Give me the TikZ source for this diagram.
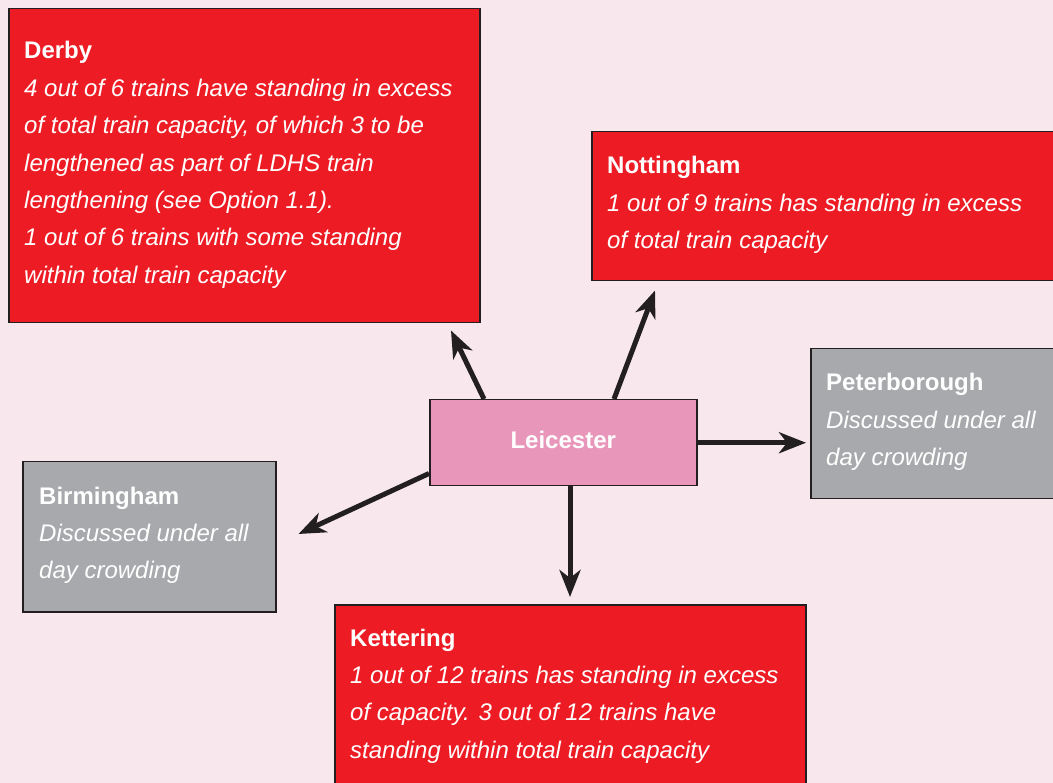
\documentclass[tikz,border=0pt]{standalone}
\usepackage{fontspec}
\setmainfont{Liberation Sans}
\usetikzlibrary{arrows.meta,calc}

\definecolor{pagebg}{HTML}{F8E8EE}
\definecolor{alertred}{HTML}{ED1C24}
\definecolor{hubpink}{HTML}{E996BB}
\definecolor{neutralgrey}{HTML}{A7A9AC}
\definecolor{inkdark}{HTML}{231F20}

% multi-line box text whose baseline is that of its first line
\newcommand{\stationtext}[2]{\parbox[t]{460pt}{\raggedright\fontsize{24}{37.4}\selectfont
  \textbf{#1}\\ \itshape #2}}

\tikzset{
  panel/.style={rectangle, draw=inkdark, line width=1.5pt, inner sep=0pt, anchor=north west},
  redpanel/.style={panel, fill=alertred},
  greypanel/.style={panel, fill=neutralgrey},
  hubpanel/.style={panel, fill=hubpink},
  paneltext/.style={anchor=base west, inner sep=0pt, text=white},
  link/.style={draw=inkdark, line width=5pt,
    -{Stealth[length=27pt, width=21pt, inset=8pt]}}
}

\begin{document}
\begin{tikzpicture}[x=1pt, y=-1pt]
  \fill[pagebg] (0,0) rectangle (1053,783);
  \useasboundingbox (0,0) rectangle (1053,783);
  \clip (0,0) rectangle (1053,783);

  % station boxes
  \node[redpanel, minimum width=471pt, minimum height=314pt] (derby) at (8,8) {};
  \node[redpanel, minimum width=475pt, minimum height=149pt] (notts) at (591,131) {};
  \node[greypanel, minimum width=250pt, minimum height=150pt] (peter) at (810,348) {};
  \node[greypanel, minimum width=253pt, minimum height=150pt] (birm) at (22,461) {};
  \node[redpanel, minimum width=471pt, minimum height=190pt] (ketter) at (334,604) {};
  \node[hubpanel, minimum width=267pt, minimum height=86pt] (leic) at (429,399) {};

  % box contents
  \node[paneltext] (derbyT) at ($(derby.north west)+(16,51)$) {\stationtext{Derby}{%
    4 out of 6 trains have standing in excess\\
    of total train capacity, of which 3 to be\\
    lengthened as part of LDHS train\\
    lengthening (see Option 1.1).\\
    1 out of 6 trains with some standing\\
    within total train capacity}};
  \node[paneltext] (nottsT) at ($(notts.north west)+(16,43)$) {\stationtext{Nottingham}{%
    1 out of 9 trains has standing in excess\\
    of total train capacity}};
  \node[paneltext] (peterT) at ($(peter.north west)+(16,43)$) {\stationtext{Peterborough}{%
    Discussed under all\\
    day crowding}};
  \node[paneltext] (birmT) at ($(birm.north west)+(17,43)$) {\stationtext{Birmingham}{%
    Discussed under all\\
    day crowding}};
  \node[paneltext] (ketterT) at ($(ketter.north west)+(16,42)$) {\stationtext{Kettering}{%
    1 out of 12 trains has standing in excess\\
    of capacity. 3 out of 12 trains have\\
    standing within total train capacity}};
  \node[text=white, font=\fontsize{24}{28}\selectfont\bfseries, inner sep=0pt]
    (leicT) at ($(leic.center)+(0,-3)$) {Leicester};

  % connectors from Leicester
  \draw[link] ($(leic.north west)+(55,0)$) -- ($(derby.south west)+(443,7)$);
  \draw[link] ($(leic.north west)+(185,0)$) -- ($(notts.south west)+(64,9)$);
  \draw[link] (leic.east) -- ($(leic.east -| peter.west)+(-4,0)$);
  \draw[link] ($(leic.south west)+(141,0)$) -- ($(ketter.north west)+(236,-7)$);
  \draw[link] ($(leic.south west)+(0,-13)$) -- ($(birm.north east)+(22,73)$);
\end{tikzpicture}
\end{document}
